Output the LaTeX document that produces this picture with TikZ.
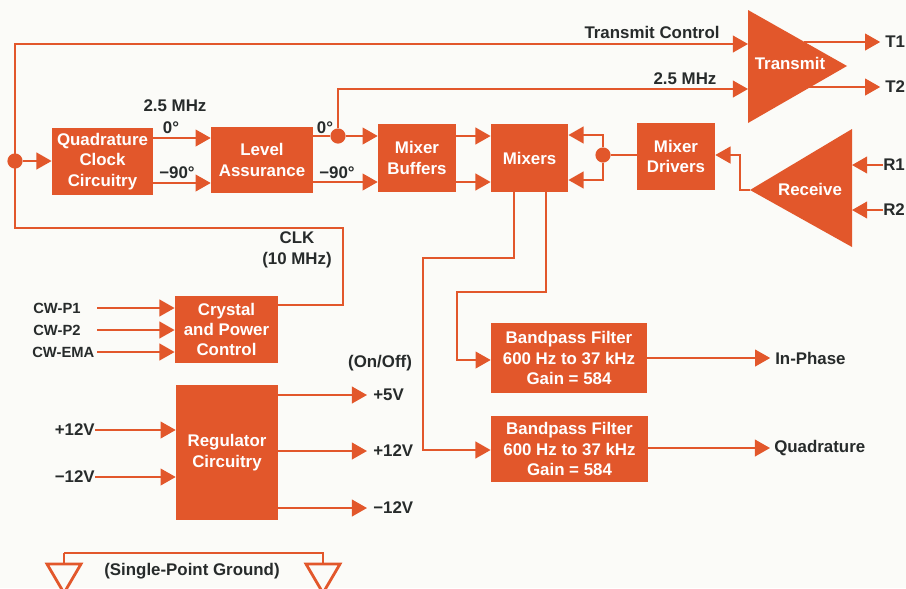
\documentclass[tikz,border=0pt]{standalone}
\usepackage{fontspec}
\setmainfont{Liberation Sans}
\usetikzlibrary{arrows.meta,positioning}
\definecolor{Brick}{HTML}{E2572B}
\definecolor{Ink}{HTML}{272B2B}
\definecolor{Paper}{HTML}{FBFBF8}

\begin{document}
\begin{tikzpicture}[
  x=0.025cm, y=-0.025cm,
  blk/.style={fill=Brick,text=white,inner sep=0pt,align=center,font=\bfseries\fontsize{12}{14.5}\selectfont},
  lbl/.style={text=Ink,inner sep=0pt,align=center,font=\bfseries\fontsize{12}{14.5}\selectfont},
  wire/.style={draw=Brick,line width=1.3pt},
  arrow/.style={wire,-{Triangle[length=0.38cm,width=0.42cm]}},
  dot/.style={circle,fill=Brick,inner sep=0pt,minimum size=0.38cm},
  gnd/.style={draw=Brick,line width=2pt,line join=miter}
]
\useasboundingbox[fill=Paper] (0,0) rectangle (906,588);

% blocks
\node[blk,minimum width=2.53cm,minimum height=1.68cm] (quad) at (102.5,161.5) {Quadrature\\Clock\\Circuitry};
\node[blk,minimum width=2.55cm,minimum height=1.65cm] (level) at (262,160) {Level\\Assurance};
\node[blk,minimum width=1.95cm,minimum height=1.7cm] (buf) at (417,158) {Mixer\\Buffers};
\node[blk,minimum width=1.93cm,minimum height=1.7cm] (mix) at (529.5,158) {Mixers};
\node[blk,minimum width=1.95cm,minimum height=1.68cm] (drv) at (676,156.5) {Mixer\\Drivers};
\node[blk,minimum width=2.58cm,minimum height=1.68cm] (xtal) at (226.5,329.5) {Crystal\\and Power\\Control};
\node[blk,minimum width=2.55cm,minimum height=3.38cm] (reg) at (227,452.5) {Regulator\\Circuitry};
\node[blk,minimum width=3.9cm,minimum height=1.75cm] (bpf1) at (569,358) {Bandpass Filter\\600 Hz to 37 kHz\\Gain = 584};
\node[blk,minimum width=3.93cm,minimum height=1.65cm] (bpf2) at (569.5,449) {Bandpass Filter\\600 Hz to 37 kHz\\Gain = 584};

% amplifiers
\fill[Brick] (748,10) -- (748,123) -- (847,66) -- cycle;
\node[blk,fill=none] (txl) at (790,63) {Transmit};
\fill[Brick] (750,190) -- (852,129) -- (852,247) -- cycle;
\node[blk,fill=none] (rxl) at (810,189) {Receive};
\coordinate (tx1) at (748,44);
\coordinate (tx2) at (748,89);
\coordinate (txa) at (804,42);
\coordinate (txb) at (804,87);
\coordinate (rx) at (750,190);
\coordinate (rxe) at (852,129);

% clock path
\node[dot] (clk) at (15,161) {};
\node[dot] (ph0) at (338,136) {};
\draw[arrow] (xtal.east |- 0,305) -| (343,228) -| (15,44) -- (tx1);
\draw[arrow] (clk) -- (quad.west |- clk);
\draw[arrow] (quad.east |- 0,138) -- (level.west |- 0,138);
\draw[arrow] (quad.east |- 0,183) -- (level.west |- 0,183);
\draw[wire] (level.east |- ph0) -- (ph0);
\draw[arrow] (ph0) -- (buf.west |- ph0);
\draw[arrow] (ph0) |- (tx2);
\draw[arrow] (level.east |- 0,182) -- (buf.west |- 0,182);
\draw[arrow] (buf.east |- 0,136) -- (mix.west |- 0,136);
\draw[arrow] (buf.east |- 0,182) -- (mix.west |- 0,182);

% receive path
\node[dot] (lo) at (603,155) {};
\draw[wire] (drv.west |- lo) -- (lo);
\draw[arrow] (lo) |- (mix.east |- 0,135);
\draw[arrow] (lo) |- (mix.east |- 0,180);
\draw[arrow] (rx) -| (740,155) -- (drv.east |- 0,155);
\draw[arrow] (mix.south -| 514,0) |- (423,258) |- (bpf2.west |- 0,450);
\draw[arrow] (mix.south -| 546,0) |- (457,292) |- (bpf1.west |- 0,360);

% labels
\node[lbl] (tcl) at (652,32) {Transmit Control};
\node[lbl] (mhz2) at (685,79) {2.5 MHz};
\node[lbl] (mhz1) at (175,106) {2.5 MHz};
\node[lbl] (qa0) at (171,128) {0°};
\node[lbl] (qa90) at (177,173) {−90°};
\node[lbl] (la0) at (325,128) {0°};
\node[lbl] (la90) at (337,173) {−90°};
\node[lbl] (clkl) at (297,250) {CLK\\(10 MHz)};

% ports
\node[lbl,anchor=west] (t1) at (885,42) {T1};
\node[lbl,anchor=west] (t2) at (885,87) {T2};
\node[lbl,anchor=west] (r1) at (883,165) {R1};
\node[lbl,anchor=west] (r2) at (883,210) {R2};
\draw[arrow,shorten >=0.12cm] (txa) -- (t1.west);
\draw[arrow,shorten >=0.12cm] (txb) -- (t2.west);
\draw[arrow] (r1.west) -- (rxe |- r1);
\draw[arrow] (r2.west) -- (rxe |- r2);
\node[lbl,anchor=west] (iph) at (775,358) {In-Phase};
\node[lbl,anchor=west] (quadr) at (774,448) {Quadrature};
\draw[arrow,shorten >=0.12cm] (bpf1.east |- iph) -- (iph.west);
\draw[arrow,shorten >=0.1cm] (bpf2.east |- quadr) -- (quadr.west);

% crystal and regulator inputs
\node[lbl,anchor=west,font=\bfseries\fontsize{10.5}{12}\selectfont] (cw1) at (33,308) {CW-P1};
\node[lbl,anchor=west,font=\bfseries\fontsize{10.5}{12}\selectfont] (cw2) at (33,330) {CW-P2};
\node[lbl,anchor=west,font=\bfseries\fontsize{10.5}{12}\selectfont] (cw3) at (32,352) {CW-EMA};
\coordinate (cw1s) at (97,308);
\coordinate (cw2s) at (97,330);
\coordinate (cw3s) at (97,352);
\draw[arrow] (cw1s) -- (xtal.west |- cw1s);
\draw[arrow] (cw2s) -- (xtal.west |- cw2s);
\draw[arrow] (cw3s) -- (xtal.west |- cw3s);
\node[lbl,anchor=east] (vin1) at (95,430) {+12V};
\node[lbl,anchor=east] (vin2) at (95,477) {−12V};
\draw[arrow] (vin1.east) -- (reg.west |- vin1);
\draw[arrow] (vin2.east) -- (reg.west |- vin2);
\node[lbl] (onoff) at (380,363) {(On/Off)};
\node[lbl,anchor=west] (v5) at (373,395) {+5V};
\node[lbl,anchor=west] (v12) at (373,451) {+12V};
\node[lbl,anchor=west] (vm12) at (373,508) {−12V};
\draw[arrow,shorten >=0.15cm] (reg.east |- v5) -- (v5.west);
\draw[arrow,shorten >=0.15cm] (reg.east |- v12) -- (v12.west);
\draw[arrow,shorten >=0.15cm] (reg.east |- vm12) -- (vm12.west);

% ground
\coordinate (g1) at (64,553);
\coordinate (g2) at (323,553);
\draw[wire] (g1) -- ++(0,10) (g1) -- (g2) -- ++(0,10);
\draw[gnd] (47,564) -- (81,564) -- (64,593) -- cycle;
\draw[gnd] (306,564) -- (340,564) -- (323,593) -- cycle;
\node[lbl] (gndl) at (192,571) {(Single-Point Ground)};
\end{tikzpicture}
\end{document}
